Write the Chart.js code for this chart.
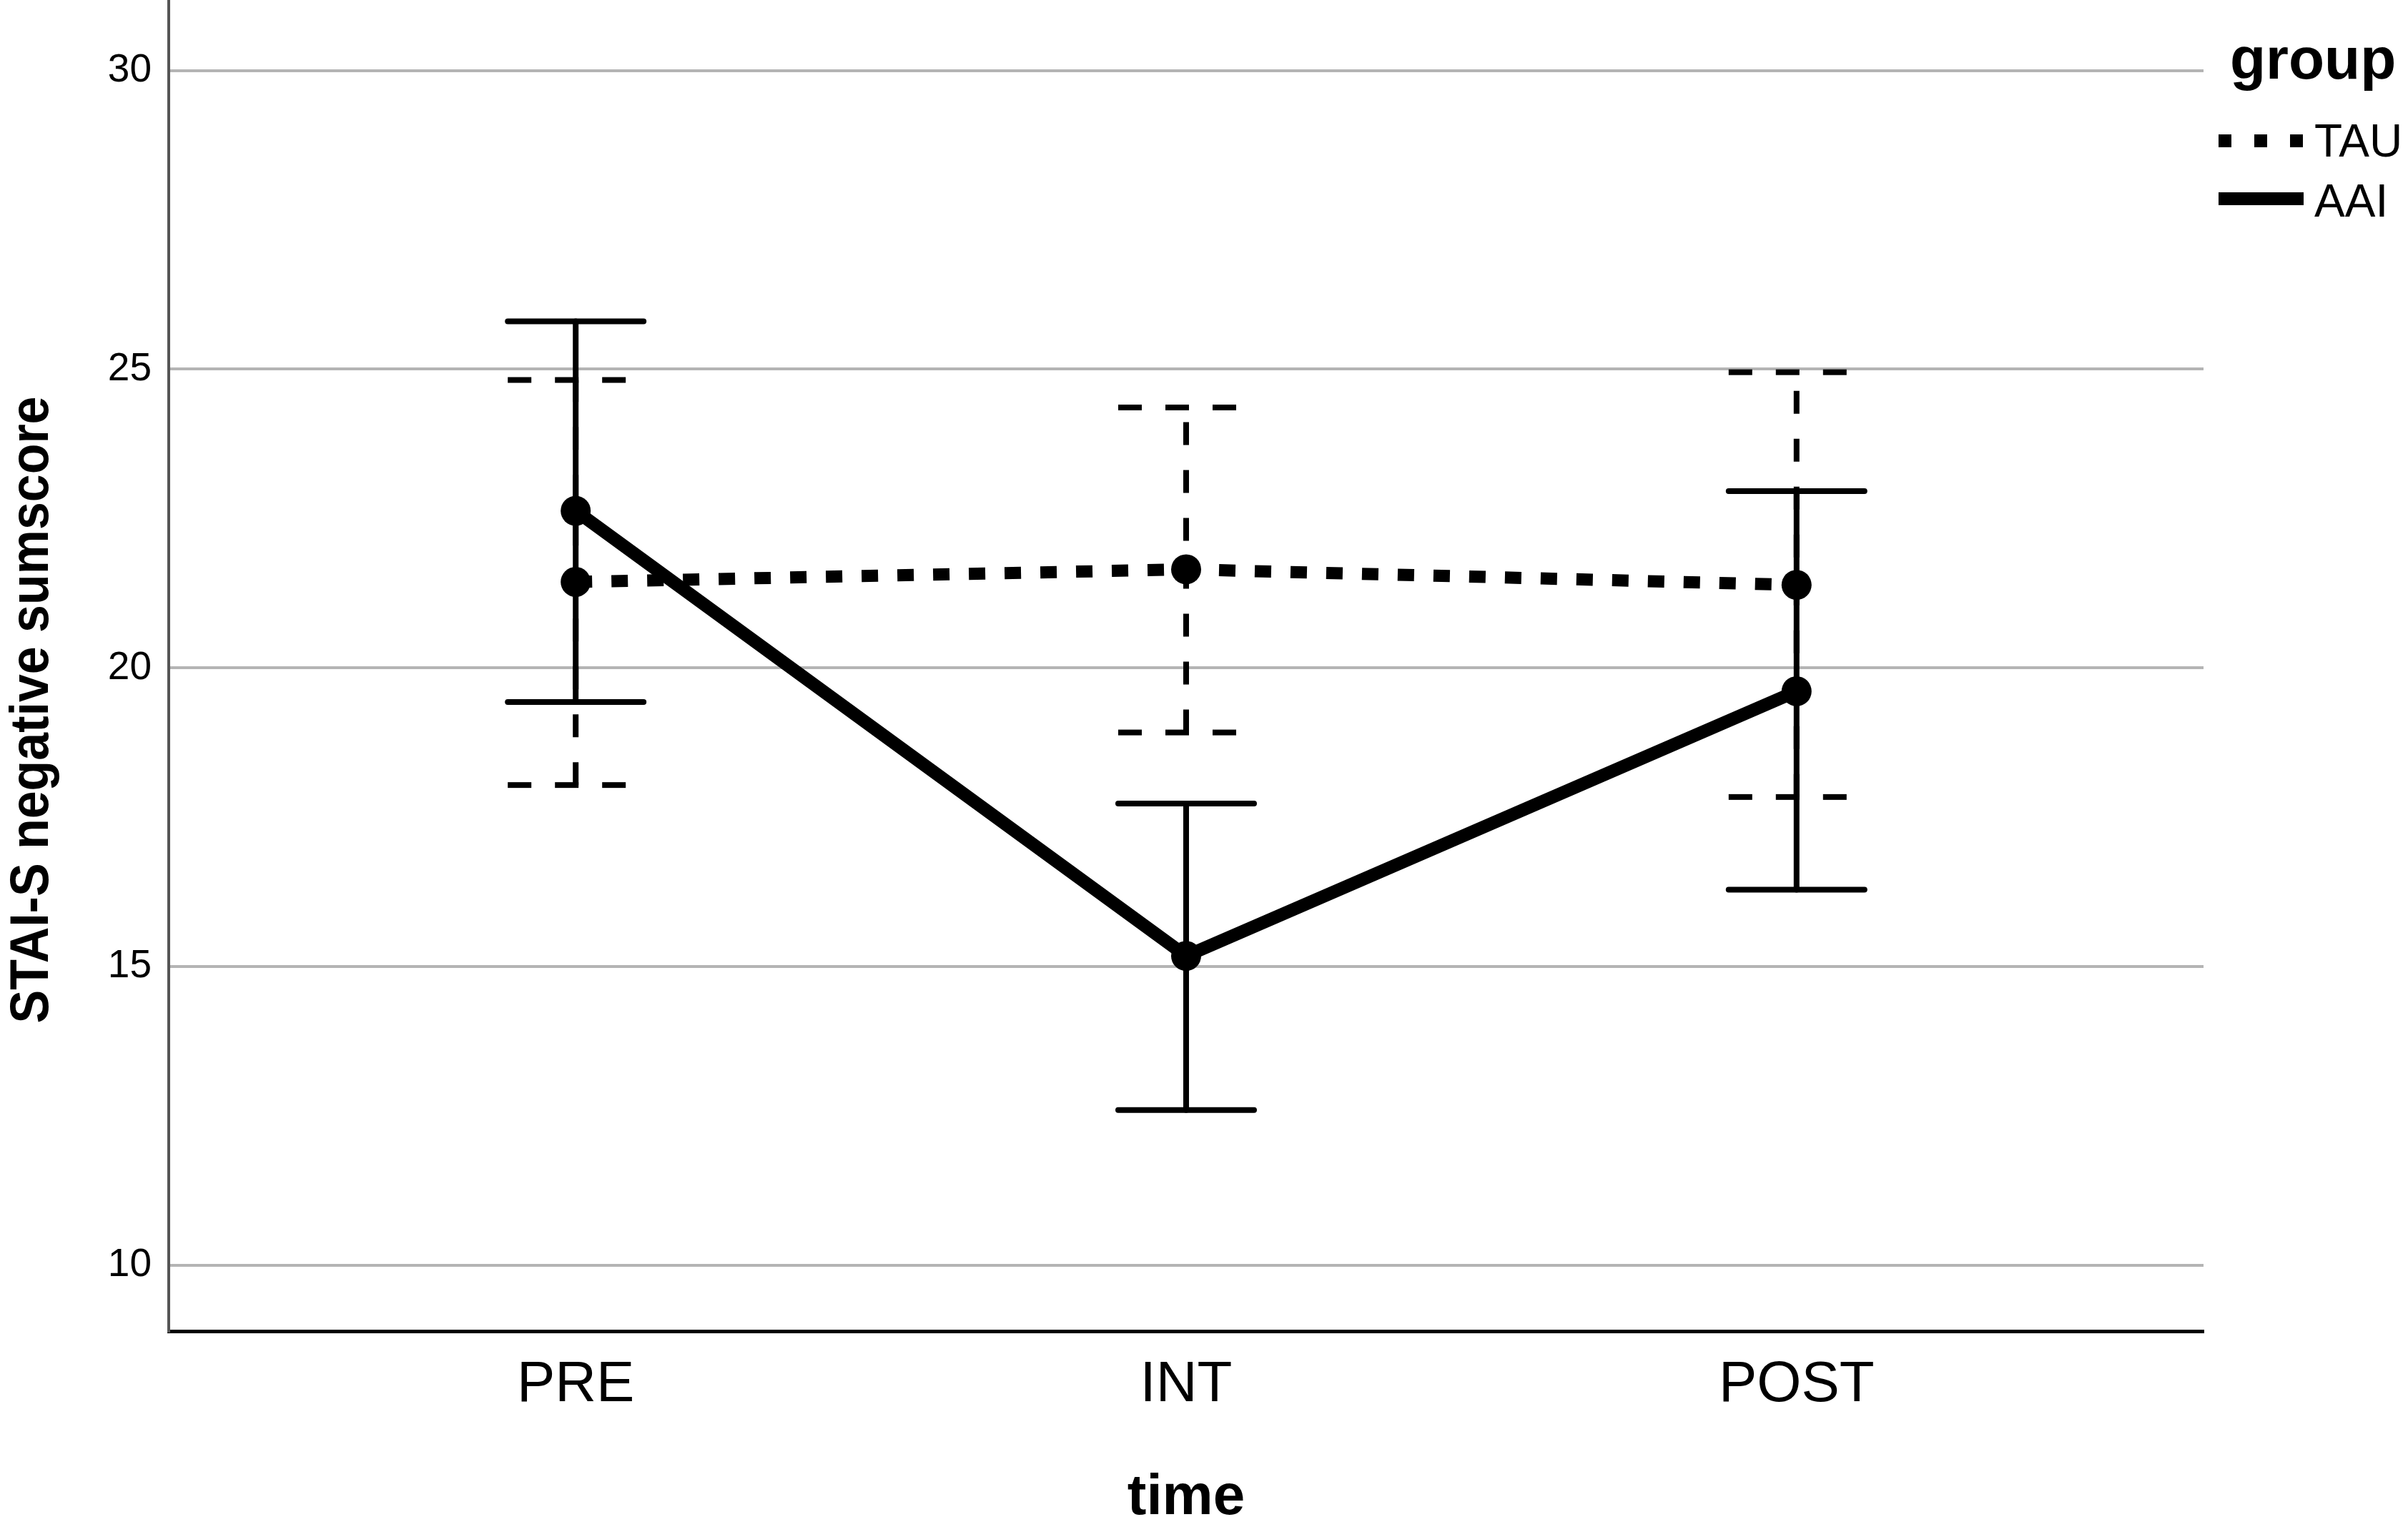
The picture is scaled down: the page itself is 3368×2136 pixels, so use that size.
<!DOCTYPE html>
<html>
<head>
<meta charset="utf-8">
<script src="https://cdn.jsdelivr.net/npm/chart.js@4.4.1/dist/chart.umd.min.js"></script>
<style>
html,body{margin:0;padding:0;background:#fff;overflow:hidden}
#wrap{width:3368px;height:2136px;position:relative}
</style>
</head>
<body>
<div id="wrap"><canvas id="c"></canvas></div>
<script>
// ---- data ----
const categories = ['PRE', 'INT', 'POST'];
const seriesNames = ['TAU', 'AAI'];
const tauMean = [21.44, 21.65, 21.39];
const tauLow  = [18.04, 18.92, 17.84];
const tauHigh = [24.82, 24.36, 24.95];
const aaiMean = [22.63, 15.18, 19.61];
const aaiLow  = [19.43, 12.60, 16.29];
const aaiHigh = [25.80, 17.73, 22.96];
const yTicks = [10, 15, 20, 25, 30];
const legendTitle = 'group';
const xTitle = 'time';
const yTitle = 'STAI-S negative sumscore';

const FONT = "'Liberation Sans', Arial, sans-serif";
Chart.defaults.font.family = FONT;
Chart.defaults.color = '#000';

const toPts = arr => arr.map((v, i) => ({x: i + 1, y: v}));

const errorBars = {
  id: 'errorBars',
  beforeDatasetsDraw(chart) {
    const {ctx, scales: {x, y}} = chart;
    chart.data.datasets.forEach(ds => {
      ctx.save();
      ctx.strokeStyle = '#000';
      ctx.lineWidth = 8;
      ctx.lineCap = ds.errDashed ? 'butt' : 'round';
      ds.errLow.forEach((lo, i) => {
        const px = x.getPixelForValue(i + 1);
        const pl = y.getPixelForValue(lo);
        const ph = y.getPixelForValue(ds.errHigh[i]);
        const half = 95;
        ctx.setLineDash(ds.errDashed ? [32, 35] : []);
        ctx.beginPath(); ctx.moveTo(px, pl); ctx.lineTo(px, ph); ctx.stroke();
        ctx.setLineDash(ds.errDashed ? [33, 33] : []);
        ctx.beginPath(); ctx.moveTo(px - half, ph); ctx.lineTo(px + half, ph); ctx.stroke();
        ctx.beginPath(); ctx.moveTo(px - half, pl); ctx.lineTo(px + half, pl); ctx.stroke();
      });
      ctx.restore();
    });
  }
};

const extras = {
  id: 'extras',
  afterDraw(chart) {
    const ctx = chart.ctx;
    const area = chart.chartArea;
    // y-axis title
    ctx.save();
    ctx.font = 'bold 76px ' + FONT;
    ctx.fillStyle = '#000';
    ctx.textAlign = 'center';
    ctx.textBaseline = 'middle';
    const w = ctx.measureText(yTitle).width;
    ctx.translate(46, 993);
    ctx.rotate(-Math.PI / 2);
    ctx.scale(877 / w, 1);
    ctx.fillText(yTitle, 0, 0);
    ctx.restore();

    // legend
    const sx0 = area.right + 21, sx1 = area.right + 140, tx = area.right + 155;
    ctx.save();
    ctx.fillStyle = '#000';
    ctx.font = 'bold 82px ' + FONT;
    ctx.textAlign = 'left';
    ctx.textBaseline = 'alphabetic';
    ctx.fillText(legendTitle, area.right + 37, 110);
    const rows = [{y: 197, ty: 201, dash: [18, 32]}, {y: 278, ty: 285, dash: []}];
    chart.data.datasets.forEach((ds, i) => {
      const r = rows[i];
      ctx.strokeStyle = '#000';
      ctx.lineWidth = 18;
      ctx.lineCap = 'butt';
      ctx.setLineDash(r.dash);
      ctx.beginPath(); ctx.moveTo(sx0, r.y); ctx.lineTo(sx1, r.y); ctx.stroke();
      ctx.setLineDash([]);
      ctx.font = '64px ' + FONT;
      ctx.textBaseline = 'middle';
      ctx.fillText(ds.label, tx, r.ty);
    });
    ctx.restore();
  }
};

new Chart(document.getElementById('c'), {
  type: 'line',
  data: {
    datasets: [
      {
        label: seriesNames[0],
        data: toPts(tauMean),
        errLow: tauLow, errHigh: tauHigh, errDashed: true,
        borderColor: '#000', borderWidth: 17, borderDash: [23, 27],
        pointRadius: 21, pointBackgroundColor: '#000', pointBorderWidth: 0,
        pointHoverRadius: 21, tension: 0, fill: false
      },
      {
        label: seriesNames[1],
        data: toPts(aaiMean),
        errLow: aaiLow, errHigh: aaiHigh, errDashed: false,
        borderColor: '#000', borderWidth: 18,
        pointRadius: 21, pointBackgroundColor: '#000', pointBorderWidth: 0,
        pointHoverRadius: 21, tension: 0, fill: false
      }
    ]
  },
  options: {
    responsive: true,
    maintainAspectRatio: false,
    devicePixelRatio: 1,
    animation: false,
    events: [],
    layout: {autoPadding: false, padding: {left: 0, right: 286, top: 0, bottom: 0}},
    plugins: {legend: {display: false}, tooltip: {enabled: false}},
    scales: {
      x: {
        type: 'linear',
        min: 1 / 3,
        max: 11 / 3,
        grid: {display: false, drawTicks: false},
        border: {display: true, color: '#000', width: 5},
        afterBuildTicks: s => { s.ticks = categories.map((c, i) => ({value: i + 1})); },
        ticks: {
          autoSkip: false, maxRotation: 0, padding: 36,
          font: {size: 80, lineHeight: 1},
          color: '#000',
          callback: v => categories[Math.round(v) - 1]
        },
        title: {
          display: true, text: xTitle, color: '#000',
          font: {size: 80, weight: 'bold', lineHeight: 1},
          padding: {top: 0, bottom: 0}
        },
        afterFit: s => { s.height = 274; s.paddingLeft = 0; s.paddingRight = 0; }
      },
      y: {
        type: 'linear',
        min: 8.9,
        max: 31.18,
        afterBuildTicks: s => { s.ticks = yTicks.map(v => ({value: v})); },
        grid: {color: '#b4b4b4', lineWidth: 4, drawTicks: false},
        border: {display: true, color: '#555', width: 4},
        ticks: {font: {size: 55, lineHeight: 1}, color: '#000', padding: 24},
        afterFit: s => { s.width = 236; s.paddingTop = 0; s.paddingBottom = 0; }
      }
    }
  },
  plugins: [errorBars, extras]
});
</script>
</body>
</html>
